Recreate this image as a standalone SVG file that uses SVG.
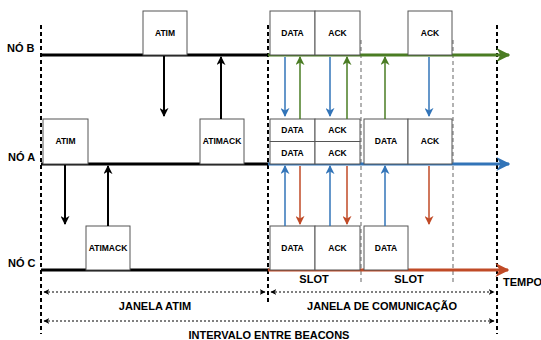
<svg xmlns="http://www.w3.org/2000/svg" width="541" height="340" viewBox="0 0 541 340">
<style>
.box{fill:#fff;stroke:#555;stroke-width:1}
.t{font-family:"Liberation Sans",Arial,sans-serif;font-weight:bold;font-size:8.5px;fill:#000;text-anchor:middle}
.lbl{font-family:"Liberation Sans",Arial,sans-serif;font-weight:bold;font-size:11px;fill:#000}
.vd{stroke:#000;stroke-width:2;stroke-dasharray:4 3;fill:none}
.vg{stroke:#999;stroke-width:1.5;stroke-dasharray:4 3;fill:none}
.blk{stroke:#000;stroke-width:2;fill:none}
.ab{stroke:#3274b8;stroke-width:1.5;fill:none}
.ag{stroke:#4a7c23;stroke-width:1.5;fill:none}
.ar{stroke:#c04a26;stroke-width:1.5;fill:none}
.dot{stroke:#000;stroke-width:1;stroke-dasharray:2 2;fill:none}
</style>
<defs>
<marker id="mk" viewBox="0 0 10 10" refX="9" refY="5" markerWidth="9" markerHeight="9" markerUnits="userSpaceOnUse" orient="auto"><path d="M0,0 L10,5 L0,10 L3,5 Z" fill="#000"/></marker>
<marker id="mb" viewBox="0 0 10 10" refX="9" refY="5" markerWidth="9" markerHeight="9" markerUnits="userSpaceOnUse" orient="auto"><path d="M0,0 L10,5 L0,10 L3,5 Z" fill="#3274b8"/></marker>
<marker id="mg" viewBox="0 0 10 10" refX="9" refY="5" markerWidth="9" markerHeight="9" markerUnits="userSpaceOnUse" orient="auto"><path d="M0,0 L10,5 L0,10 L3,5 Z" fill="#4a7c23"/></marker>
<marker id="mr" viewBox="0 0 10 10" refX="9" refY="5" markerWidth="9" markerHeight="9" markerUnits="userSpaceOnUse" orient="auto"><path d="M0,0 L10,5 L0,10 L3,5 Z" fill="#c04a26"/></marker>
<marker id="mgb" viewBox="0 0 10 10" refX="9" refY="5" markerWidth="14" markerHeight="14" markerUnits="userSpaceOnUse" orient="auto"><path d="M0,0 L10,5 L0,10 L3,5 Z" fill="#4a7c23"/></marker>
<marker id="mbb" viewBox="0 0 10 10" refX="9" refY="5" markerWidth="14" markerHeight="14" markerUnits="userSpaceOnUse" orient="auto"><path d="M0,0 L10,5 L0,10 L3,5 Z" fill="#3274b8"/></marker>
<marker id="mrb" viewBox="0 0 10 10" refX="9" refY="5" markerWidth="14" markerHeight="14" markerUnits="userSpaceOnUse" orient="auto"><path d="M0,0 L10,5 L0,10 L3,5 Z" fill="#c04a26"/></marker>
<marker id="md" viewBox="0 0 10 10" refX="9" refY="5" markerWidth="6" markerHeight="6" markerUnits="userSpaceOnUse" orient="auto-start-reverse"><path d="M0,0 L10,5 L0,10 L3,5 Z" fill="#000"/></marker>
</defs>

<g id="guides">
<line class="vd" x1="41" y1="25" x2="41" y2="334"/>
<line class="vd" x1="268" y1="25" x2="268" y2="304"/>
<line class="vd" x1="497" y1="25" x2="497" y2="334"/>
<line class="vg" x1="361" y1="40" x2="361" y2="284"/>
<line class="vg" x1="453" y1="40" x2="453" y2="284"/>
</g>

<g id="timelines">
<line x1="41" y1="55" x2="269" y2="55" stroke="#000" stroke-width="3"/>
<line x1="268" y1="55" x2="509" y2="55" stroke="#4a7c23" stroke-width="3" marker-end="url(#mgb)"/>
<line x1="41" y1="164" x2="269" y2="164" stroke="#000" stroke-width="3"/>
<line x1="268" y1="164" x2="509" y2="164" stroke="#3274b8" stroke-width="3" marker-end="url(#mbb)"/>
<line x1="41" y1="270" x2="269" y2="270" stroke="#000" stroke-width="3"/>
<line x1="268" y1="270" x2="508" y2="270" stroke="#c04a26" stroke-width="3" marker-end="url(#mrb)"/>
</g>

<g id="node-b">
<text class="lbl" x="7" y="52">NÓ B</text>
<rect class="box" x="143" y="11" width="44" height="44"/><text class="t" x="165" y="36">ATIM</text>
<rect class="box" x="270" y="11" width="45" height="44"/><text class="t" x="292.5" y="36">DATA</text>
<rect class="box" x="315" y="11" width="45" height="44"/><text class="t" x="337.5" y="36">ACK</text>
<rect class="box" x="408" y="11" width="44" height="44"/><text class="t" x="430" y="36">ACK</text>
</g>

<g id="node-a">
<text class="lbl" x="8" y="161">NÓ A</text>
<rect class="box" x="43" y="119" width="45" height="45"/><text class="t" x="65.5" y="144">ATIM</text>
<rect class="box" x="200" y="119" width="44" height="45"/><text class="t" x="222" y="144">ATIMACK</text>
<rect class="box" x="270" y="119" width="45" height="22.5"/><text class="t" x="292.5" y="133">DATA</text>
<rect class="box" x="315" y="119" width="45" height="22.5"/><text class="t" x="337.5" y="133">ACK</text>
<rect class="box" x="270" y="141.5" width="45" height="22.5"/><text class="t" x="292.5" y="155.5">DATA</text>
<rect class="box" x="315" y="141.5" width="45" height="22.5"/><text class="t" x="337.5" y="155.5">ACK</text>
<rect class="box" x="364" y="119" width="44" height="45"/><text class="t" x="386" y="144">DATA</text>
<rect class="box" x="408" y="119" width="44" height="45"/><text class="t" x="430" y="144">ACK</text>
</g>

<g id="node-c">
<text class="lbl" x="8" y="267">NÓ C</text>
<rect class="box" x="86" y="226" width="44" height="44"/><text class="t" x="108" y="251">ATIMACK</text>
<rect class="box" x="270" y="226" width="45" height="44"/><text class="t" x="292.5" y="251">DATA</text>
<rect class="box" x="315" y="226" width="45" height="44"/><text class="t" x="337.5" y="251">ACK</text>
<rect class="box" x="364" y="226" width="44" height="44"/><text class="t" x="386" y="251">DATA</text>
</g>

<g id="connectors">
<line class="blk" x1="164" y1="56" x2="164" y2="116" marker-end="url(#mk)"/>
<line class="blk" x1="221" y1="119" x2="221" y2="57" marker-end="url(#mk)"/>
<line class="blk" x1="65" y1="165" x2="65" y2="224" marker-end="url(#mk)"/>
<line class="blk" x1="108" y1="226" x2="108" y2="166" marker-end="url(#mk)"/>
<line class="ab" x1="285" y1="57" x2="285" y2="116" marker-end="url(#mb)"/>
<line class="ab" x1="330" y1="57" x2="330" y2="116" marker-end="url(#mb)"/>
<line class="ab" x1="429" y1="57" x2="429" y2="116" marker-end="url(#mb)"/>
<line class="ag" x1="300" y1="119" x2="300" y2="57" marker-end="url(#mg)"/>
<line class="ag" x1="347" y1="119" x2="347" y2="57" marker-end="url(#mg)"/>
<line class="ag" x1="385" y1="119" x2="385" y2="57" marker-end="url(#mg)"/>
<line class="ab" x1="285" y1="226" x2="285" y2="166" marker-end="url(#mb)"/>
<line class="ab" x1="330" y1="226" x2="330" y2="166" marker-end="url(#mb)"/>
<line class="ab" x1="385" y1="226" x2="385" y2="166" marker-end="url(#mb)"/>
<line class="ar" x1="300" y1="166" x2="300" y2="224" marker-end="url(#mr)"/>
<line class="ar" x1="347" y1="166" x2="347" y2="224" marker-end="url(#mr)"/>
<line class="ar" x1="429" y1="166" x2="429" y2="224" marker-end="url(#mr)"/>
</g>

<g id="intervals">
<line class="dot" x1="44" y1="292" x2="265" y2="292" marker-start="url(#md)" marker-end="url(#md)"/>
<line class="dot" x1="271" y1="292" x2="494" y2="292" marker-start="url(#md)" marker-end="url(#md)"/>
<line class="dot" x1="44" y1="321" x2="494" y2="321" marker-start="url(#md)" marker-end="url(#md)"/>
<text class="lbl" x="155" y="310" text-anchor="middle">JANELA ATIM</text>
<text class="lbl" x="382" y="310" text-anchor="middle">JANELA DE COMUNICAÇÃO</text>
<text class="lbl" x="269" y="339" text-anchor="middle">INTERVALO ENTRE BEACONS</text>
<text class="lbl" x="314" y="283" text-anchor="middle">SLOT</text>
<text class="lbl" x="409" y="283" text-anchor="middle">SLOT</text>
<text class="lbl" x="503" y="286">TEMPO</text>
</g>
</svg>
